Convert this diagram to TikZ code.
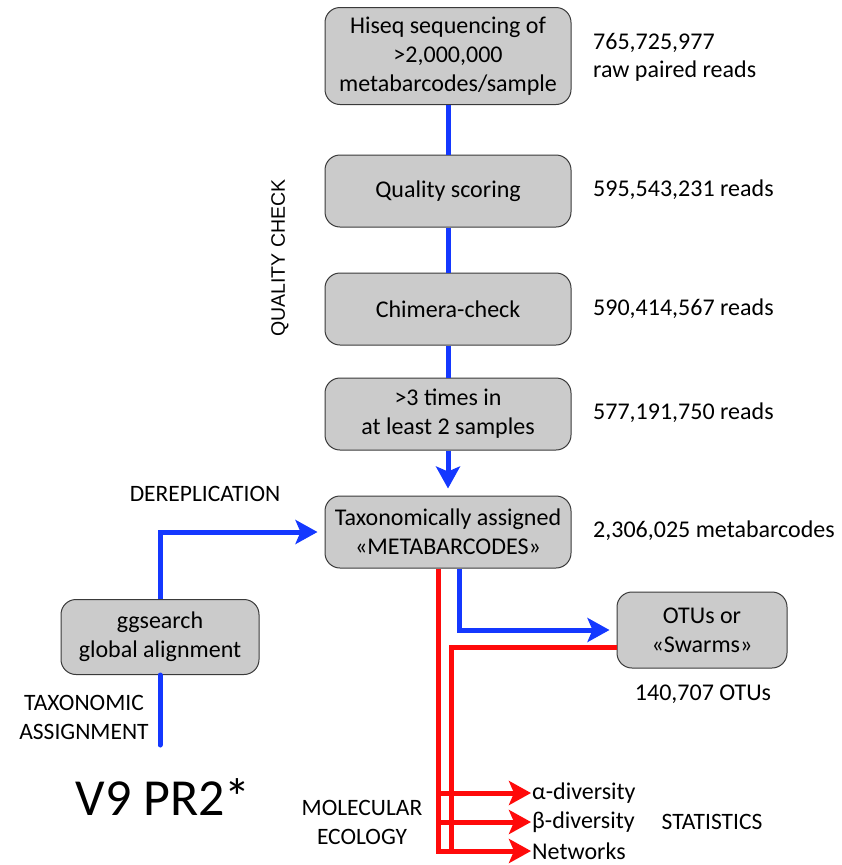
\documentclass[tikz,border=0pt]{standalone}
\usepackage{fontspec}
\setmainfont{Carlito}
\newfontfamily\arialfont{Liberation Sans}
\usetikzlibrary{arrows.meta,positioning}
\definecolor{fcBlue}{HTML}{1438FF}
\definecolor{fcRed}{HTML}{FF0A0A}
\definecolor{fcBox}{HTML}{CBCBCB}
\definecolor{fcEdge}{HTML}{3A3A3A}

\begin{document}
\begin{tikzpicture}[x=1pt,y=-1pt,
  stepbox/.style={draw=fcEdge,fill=fcBox,rounded corners=15pt,line width=1pt,
    align=center,minimum width=246pt,minimum height=72pt,inner sep=2pt,
    font=\fontsize{24}{29}\selectfont},
  count/.style={anchor=west,align=left,inner sep=0pt,font=\fontsize{24}{28}\selectfont},
  lbl/.style={align=center,inner sep=0pt,font=\fontsize{23.5}{29}\selectfont},
  outcome/.style={anchor=west,inner sep=1pt,font=\fontsize{24}{29}\selectfont},
  flowB/.style={draw=fcBlue,line width=5pt},
  flowR/.style={draw=fcRed,line width=5pt},
  tip/.style={-{Stealth[length=22pt,width=24pt,inset=5pt]}}]
\useasboundingbox (0,0) rectangle (841,865);

% main pipeline
\node[stepbox,minimum height=97pt] (hiseq) at (448,56) {Hiseq sequencing of\\>2,000,000\\metabarcodes/sample};
\node[stepbox] (qual) at (448,191) {Quality scoring};
\node[stepbox] (chim) at (448,309) {Chimera-check};
\node[stepbox] (times) at (448,414) {>3 times in\\at least 2 samples};
\node[stepbox] (taxo) at (448,532) {Taxonomically assigned\\«METABARCODES»};
\node[stepbox,minimum width=198pt,minimum height=75pt] (ggs) at (160,637) {ggsearch\\global alignment};
\node[stepbox,minimum width=170pt,minimum height=76pt] (otu) at (702,630) {OTUs or\\«Swarms»};

% read counts
\node[count] (cHiseq) at (593,57) {765,725,977\\raw paired reads};
\node[count] (cQual) at (593,190) {595,543,231 reads};
\node[count] (cChim) at (593,309) {590,414,567 reads};
\node[count] (cTimes) at (593,413) {577,191,750 reads};
\node[count] (cTaxo) at (593,531) {2,306,025 metabarcodes};
\node[count,anchor=center] (cOtu) at (703,694) {140,707 OTUs};

% side labels
\node[rotate=90,inner sep=0pt,font=\arialfont\fontsize{19.5}{24}\selectfont] (qc) at (280,258) {QUALITY CHECK};
\node[lbl] (derep) at (205,494) {DEREPLICATION};
\node[lbl] (tassign) at (84,717) {TAXONOMIC\\ASSIGNMENT};
\node[inner sep=0pt,font=\fontsize{52}{60}\selectfont] (pr2) at (163,797) {V9 PR2*};
\node[lbl] (molec) at (362,822) {MOLECULAR\\ECOLOGY};
\node[lbl] (stats) at (712,822) {STATISTICS};

% outcomes
\node[outcome] (alpha) at (531,793) {α-diversity};
\node[outcome] (beta) at (531,822) {β-diversity};
\node[outcome] (net) at (531,851) {Networks};

% blue flow
\draw[flowB] (hiseq) -- (qual);
\draw[flowB] (qual) -- (chim);
\draw[flowB] (chim) -- (times);
\draw[flowB,tip,shorten >=7pt] (times) -- (taxo);
\draw[flowB,tip,shorten >=7pt] (ggs.north) |- (taxo.west);
\coordinate (ggsEnd) at (160,745);
\draw[flowB,line cap=round] (ggs.south) -- (ggsEnd);
\draw[flowB,tip,shorten >=7pt] ([xshift=11pt]taxo.south) |- (otu.west);

% red flow
\coordinate (redL) at ([xshift=-10pt]taxo.south);
\draw[flowR,tip] (redL) |- (net.west);
\draw[flowR,tip] (redL |- alpha.west) -- (alpha.west);
\draw[flowR,tip] (redL |- beta.west) -- (beta.west);
\draw[flowR] ([yshift=-17pt]otu.west) -| ([xshift=-80pt]net.west);
\end{tikzpicture}
\end{document}
